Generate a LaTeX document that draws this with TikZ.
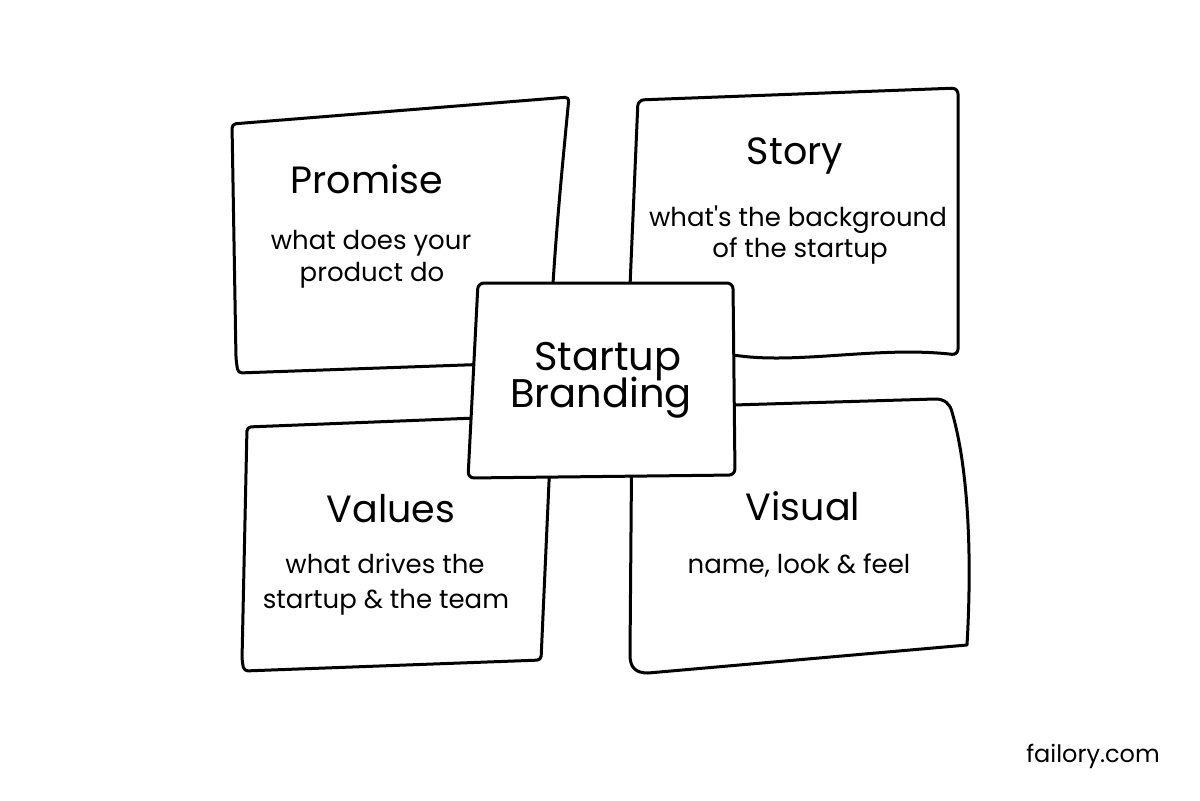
\documentclass[tikz,border=0pt]{standalone}
\usepackage{fontspec}
\setmainfont{Poppins}
\usepackage{tikz}
\usetikzlibrary{calc}

\tikzset{
  card/.style={line width=1.5pt, line join=round, line cap=round, fill=white},
  heading/.style={anchor=base, inner sep=0pt, font=\fontsize{19}{22}\selectfont},
  blurb/.style={anchor=base, inner sep=0pt, font=\fontsize{13}{16}\selectfont},
  hub/.style={anchor=base, inner sep=0pt, font=\fontsize{20}{24}\selectfont}
}

\begin{document}
\begin{tikzpicture}[x=0.5pt, y=-0.5pt]
\path[use as bounding box, fill=white] (0,0) rectangle (1200,800);

% the four cards
\draw[card, rounded corners=2pt] (232,124) -- (569,97) .. controls (561,180) and (553,260) .. (549,362) -- (238,373) -- (236,359) -- cycle;
\draw[card, rounded corners=3pt] (638,100) -- (958,88) -- (958,355) .. controls (880,346) and (800,364) .. (733,355) -- (627,356) -- cycle;
\draw[card, rounded corners=2pt] (247,427) -- (552,415) -- (541,660) -- (244,671) -- (242,660) -- cycle;
\draw[card] (632,408) -- (935,399) .. controls (945,399) and (950,404) .. (952,412) .. controls (966,460) and (973,540) .. (967,645) -- (648,673) .. controls (636,673) and (630,668) .. (630,655) -- cycle;

% centre card
\draw[card, rounded corners=3pt] (478,283) -- (733,283) -- (735,475) -- (468,478) -- cycle;

\node[heading] (promise) at (367,193) {Promise};
\node[blurb] (promise1) at (371,249) {what does your};
\node[blurb] (promise2) at (372,281) {product do};

\node[heading] (story) at (795,164) {Story};
\node[blurb] (story1) at (798,226) {what\textquotesingle s the background};
\node[blurb] (story2) at (800,257) {of the startup};

\node[heading] (values) at (391,522) {Values};
\node[blurb] (values1) at (385,573) {what drives the};
\node[blurb] (values2) at (386,608) {startup \& the team};

\node[heading] (visual) at (803,520) {Visual};
\node[blurb] (visual1) at (799,573) {name, look \& feel};

\node[hub] (hub1) at (608,370) {Startup};
\node[hub] (hub2) at (601,407) {Branding};

\node[blurb, font=\fontsize{12}{14}\selectfont] (brand) at (1093,762) {failory.com};
\end{tikzpicture}
\end{document}
